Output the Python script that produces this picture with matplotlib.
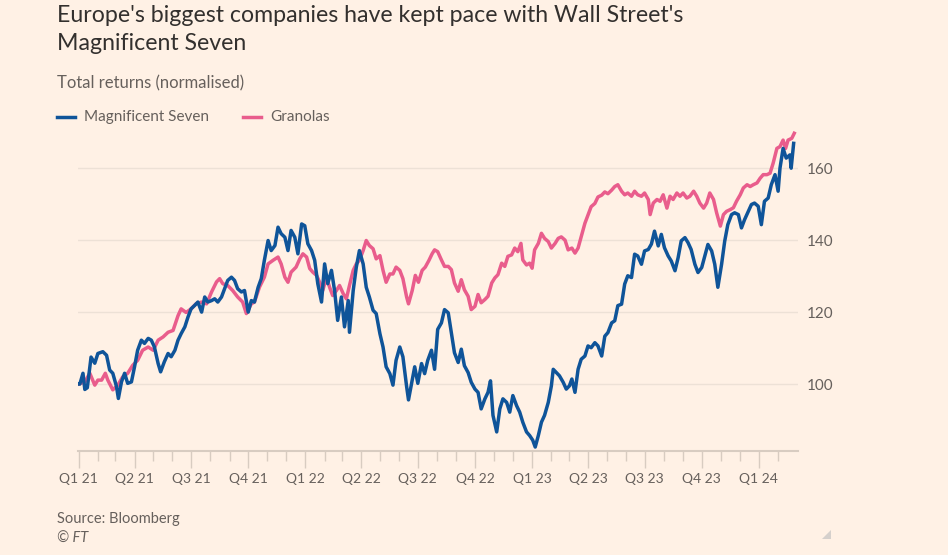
import numpy as np
import matplotlib
matplotlib.use("Agg")
import matplotlib.pyplot as plt

# Total returns, normalised to 100 at the start of 2021
# x values are days since 2021-01-01
start = np.datetime64("2021-01-01")

mag7_days = [0, 2, 7, 10, 14, 20, 26, 31, 39, 45, 50, 55, 61, 64, 69, 74, 79, 85, 90, 95,
             101, 106, 112, 117, 122, 128, 132, 138, 144, 149, 155, 160, 165, 171, 176, 181,
             187, 192, 198, 203, 208, 214, 219, 224, 230, 235, 240, 246, 251, 256, 262, 267,
             273, 278, 283, 289, 294, 299, 305, 310, 316, 321, 326, 332, 337, 342, 348, 353,
             359, 364, 369, 375, 380, 385, 391, 396, 401, 407, 412, 417, 423, 428, 434, 436,
             442, 447, 452, 458, 463, 468, 474, 479, 485, 490, 495, 501, 506, 511, 517, 522,
             528, 531, 537, 541, 546, 552, 557, 562, 568, 573, 578, 584, 589, 595, 600, 605,
             611, 616, 621, 627, 632, 638, 643, 648, 654, 659, 663, 667, 673, 678, 683, 689,
             694, 699, 705, 710, 715, 721, 726, 731, 735, 740, 745, 750, 756, 761, 764, 769,
             774, 780, 785, 790, 794, 799, 804, 809, 815, 820, 825, 831, 836, 842, 847, 852,
             858, 863, 868, 874, 879, 884, 890, 895, 900, 906, 911, 917, 922, 927, 933, 938,
             943, 949, 954, 960, 965, 970, 976, 981, 986, 992, 997, 1003, 1008, 1013, 1019,
             1024, 1029, 1035, 1040, 1045, 1051, 1056, 1062, 1067, 1072, 1078, 1083, 1088,
             1094, 1099, 1104, 1110, 1115, 1121, 1126, 1129, 1134, 1139, 1145, 1147, 1151]
mag7_vals = [100, 100, 103, 98.5, 99, 107.5, 105.8, 108.5, 109, 108, 103.9, 103, 99.3, 96,
             100.6, 103, 100.2, 100.6, 104.8, 109.4, 112.2, 111.3, 112.7, 112.2, 110.3, 105.7,
             103.4, 106.2, 108.5, 107.6, 109.4, 112.2, 114, 115.9, 118.6, 120.9, 121.9, 122.8,
             120, 124.2, 122.8, 123.2, 123.7, 122.8, 124.2, 126.5, 128.8, 129.7, 128.8, 126.5,
             125.6, 126, 120, 123.2, 122.8, 126.9, 129.3, 134.4, 139.9, 137.1, 138.5, 143.6,
             141.8, 140.8, 137.1, 142.7, 140.8, 136.2, 144.5, 144, 139, 137.1, 134.4, 127.9,
             122.8, 133.4, 127.9, 131.6, 126, 117.7, 124.2, 115.9, 123.2, 114.4, 126, 132.5,
             137.1, 133.4, 126.9, 124.2, 120.5, 119.6, 114, 110.3, 104.8, 102.9, 99.7, 106.6,
             110.3, 107.6, 99.3, 95.6, 101.1, 104.8, 100.2, 105.7, 102.9, 106.6, 109.4, 104.1,
             115.2, 117, 120.7, 119.8, 114.3, 108.7, 106, 109.7, 105.1, 103.2, 100.5, 98.6,
             97.7, 93.1, 95.9, 97.7, 100.9, 91.3, 86.7, 93.1, 95.9, 94.9, 92.2, 96.8, 94, 92.2,
             89.4, 86.7, 85.7, 84.4, 82.5, 85.7, 89.4, 91.3, 94.9, 99.5, 104.1, 103.2, 102.3,
             100.5, 98.6, 99.5, 101.4, 97.7, 104.1, 106.9, 107.8, 110.6, 110.1, 111.5, 110.6,
             107.8, 113.3, 114.3, 117, 117.6, 121.8, 122.2, 127.8, 130.1, 129.6, 136.1, 135.6,
             133.3, 137, 137.4, 138.9, 142.5, 138.4, 141.6, 137.9, 135.6, 134.2, 131.5, 135.1,
             139.8, 140.7, 139.3, 137.4, 133.3, 131, 132.4, 135.6, 138.8, 137, 133.3, 126.9,
             133.3, 139.7, 144.3, 147.1, 147.6, 147.1, 143.4, 145.7, 148, 149.9, 150.3, 149.4,
             144.3, 150.8, 151.7, 155.4, 158.2, 153.6, 160, 165.5, 162.8, 163.7, 160, 166.9]

gran_days = [0, 10, 18, 26, 31, 37, 43, 47, 55, 63, 71, 79, 87, 95, 103, 112, 120, 128, 136,
             144, 152, 160, 165, 173, 181, 189, 198, 206, 214, 222, 227, 232, 240, 248, 256,
             264, 270, 278, 283, 291, 299, 305, 313, 321, 326, 332, 337, 342, 350, 356, 361,
             367, 372, 377, 383, 388, 393, 399, 404, 409, 415, 420, 426, 431, 436, 442, 447,
             452, 458, 463, 468, 474, 479, 485, 490, 495, 501, 506, 511, 517, 522, 528, 531,
             537, 542, 547, 553, 558, 564, 569, 573, 578, 584, 589, 595, 600, 605, 611, 616,
             621, 627, 632, 638, 643, 648, 654, 659, 665, 670, 675, 681, 686, 691, 697, 702,
             707, 712, 715, 721, 726, 730, 734, 740, 745, 750, 756, 761, 767, 772, 777, 783,
             788, 794, 799, 804, 809, 815, 820, 825, 831, 836, 842, 847, 852, 858, 863, 868,
             874, 879, 884, 890, 895, 900, 906, 911, 917, 920, 925, 931, 936, 941, 947, 952,
             957, 963, 968, 973, 979, 984, 990, 995, 1000, 1006, 1011, 1016, 1022, 1027, 1033,
             1038, 1043, 1049, 1054, 1059, 1065, 1070, 1076, 1081, 1086, 1092, 1097, 1102,
             1108, 1113, 1118, 1124, 1129, 1134, 1138, 1142, 1148, 1152]
gran_vals = [100, 100.6, 103, 99.7, 101.1, 101.1, 103, 101.1, 98.4, 99.7, 102, 103, 105.2,
             106.6, 109.4, 110.3, 109.4, 112.2, 113.1, 114.4, 114.9, 119, 120.9, 119.9, 120.9,
             122.3, 122.8, 122.3, 125.6, 128.4, 129.3, 127.9, 127.4, 126, 124.2, 122.8, 119.6,
             122.3, 122.8, 126.9, 129.7, 133.4, 134.4, 135.3, 133.4, 129.7, 128.3, 131.1, 132.5,
             134.8, 136.2, 135.3, 132.1, 131.1, 130.2, 128.3, 126, 129.7, 126.9, 124.6, 126,
             127.4, 125.1, 123.7, 127.4, 131.6, 133.4, 134.4, 137.1, 139.9, 138.5, 137.6, 134.8,
             135.7, 131.6, 128.3, 130.6, 130.6, 132.5, 131.6, 129.3, 124.2, 122.3, 126, 130.2,
             128.3, 131.6, 132.5, 134.4, 136.2, 137.3, 136.8, 134.5, 132.7, 132.7, 131.8, 128.1,
             125.8, 129, 126.2, 124.4, 120.7, 121.6, 124.9, 122.6, 123.5, 124.4, 128.1, 129.5,
             130.4, 133.6, 132.7, 135.5, 135.9, 137.8, 136.8, 139.1, 134.5, 133.1, 133.6, 132.2,
             137.3, 139.1, 141.9, 140.5, 139.6, 137.8, 139.1, 140.5, 140.9, 140, 137.3, 137.8,
             136.4, 137.8, 140.9, 144.7, 147, 149.3, 150.2, 152, 152.5, 153.4, 152.9, 153.9,
             154.9, 155.4, 153.6, 152.6, 153.1, 152.2, 153.6, 152.6, 152.2, 153.1, 151.3, 147.1,
             150.3, 151.3, 150.8, 152.6, 148.9, 152.2, 151.3, 153.1, 152.2, 153.1, 151.7, 152.2,
             153.6, 152.2, 150.3, 148.9, 150.3, 153.1, 151.3, 147.6, 143.9, 147.1, 148, 148.5,
             149, 150.8, 152.6, 154.5, 155.4, 154.9, 155.4, 155.9, 157.2, 158.2, 158.2, 158.6,
             161.4, 165.5, 166, 167.8, 165.5, 167.8, 168.3, 169.7]

quarter_labels = ["Q1 21", "Q2 21", "Q3 21", "Q4 21", "Q1 22", "Q2 22", "Q3 22", "Q4 22",
                  "Q1 23", "Q2 23", "Q3 23", "Q4 23", "Q1 24"]
y_ticks = [100, 120, 140, 160]

BG = "#FFF1E5"
BLUE = "#0F5499"
PINK = "#E95D8C"
GREY = "#66605C"

plt.rcParams["font.family"] = ["Lato", "DejaVu Sans"]

fig = plt.figure(figsize=(9.48, 5.55), dpi=100, facecolor=BG)
ax = fig.add_axes([78 / 948, 1 - 451 / 555, 720 / 948, 326 / 555], facecolor=BG)

mag7_x = start + np.array(mag7_days).astype("timedelta64[D]")
gran_x = start + np.array(gran_days).astype("timedelta64[D]")

ax.plot(gran_x, gran_vals, color=PINK, lw=2.5, solid_joinstyle="round")
ax.plot(mag7_x, mag7_vals, color=BLUE, lw=2.5, solid_joinstyle="round")

ax.set_xlim(start - np.timedelta64(1, "D"), start + np.timedelta64(1158, "D"))
ax.set_ylim(81.4, 172)

# quarter ticks with labels, monthly minor ticks
quarters = np.arange(np.datetime64("2021-01"), np.datetime64("2024-04"), 3).astype("datetime64[D]")
months = np.arange(np.datetime64("2021-01"), np.datetime64("2024-03")).astype("datetime64[D]")
ax.set_xticks(quarters)
ax.set_xticklabels(quarter_labels)
ax.set_xticks(months, minor=True)
ax.tick_params(axis="x", which="major", length=12, width=1, color="#D8CCC1",
               labelsize=10, labelcolor=GREY, pad=4)
ax.tick_params(axis="x", which="minor", length=7, width=1, color="#D8CCC1")

ax.yaxis.tick_right()
ax.set_yticks(y_ticks)
ax.tick_params(axis="y", length=0, labelsize=11, labelcolor=GREY, pad=6)
ax.grid(axis="y", color="#EDE1D6", lw=1)
ax.set_axisbelow(True)

for side in ["top", "left", "right"]:
    ax.spines[side].set_visible(False)
ax.spines["bottom"].set_color("#D8CCC1")
ax.spines["bottom"].set_linewidth(1.5)

# titles
fig.text(57 / 948, 1 - 5 / 555, "Europe's biggest companies have kept pace with Wall Street's\nMagnificent Seven",
         fontsize=16.7, color="#33302E", va="top", ha="left", linespacing=1.4)
fig.text(57 / 948, 1 - 83 / 555, "Total returns (normalised)", fontsize=12, color=GREY,
         va="center", ha="left")

# legend
fig.add_artist(plt.Line2D([57 / 948, 75 / 948], [1 - 117 / 555] * 2, color=BLUE, lw=2.5))
fig.text(84 / 948, 1 - 117 / 555, "Magnificent Seven", fontsize=11, color=GREY, va="center")
fig.add_artist(plt.Line2D([243 / 948, 261 / 948], [1 - 117 / 555] * 2, color=PINK, lw=2.5))
fig.text(270 / 948, 1 - 117 / 555, "Granolas", fontsize=11, color=GREY, va="center")

# footer
fig.text(57 / 948, 1 - 519 / 555, "Source: Bloomberg", fontsize=10.5, color=GREY, va="center")
fig.text(57 / 948, 1 - 539 / 555, "© FT", fontsize=10.5, color=GREY, va="center", style="italic")

# small resize grip in the bottom-right corner
fig.add_artist(plt.Polygon([[831 / 948, 1 - 530 / 555], [831 / 948, 1 - 539 / 555],
                            [822 / 948, 1 - 539 / 555]], closed=True, color="#D5D0CC", lw=0))

fig.savefig("out.png", dpi=100, facecolor=BG)
